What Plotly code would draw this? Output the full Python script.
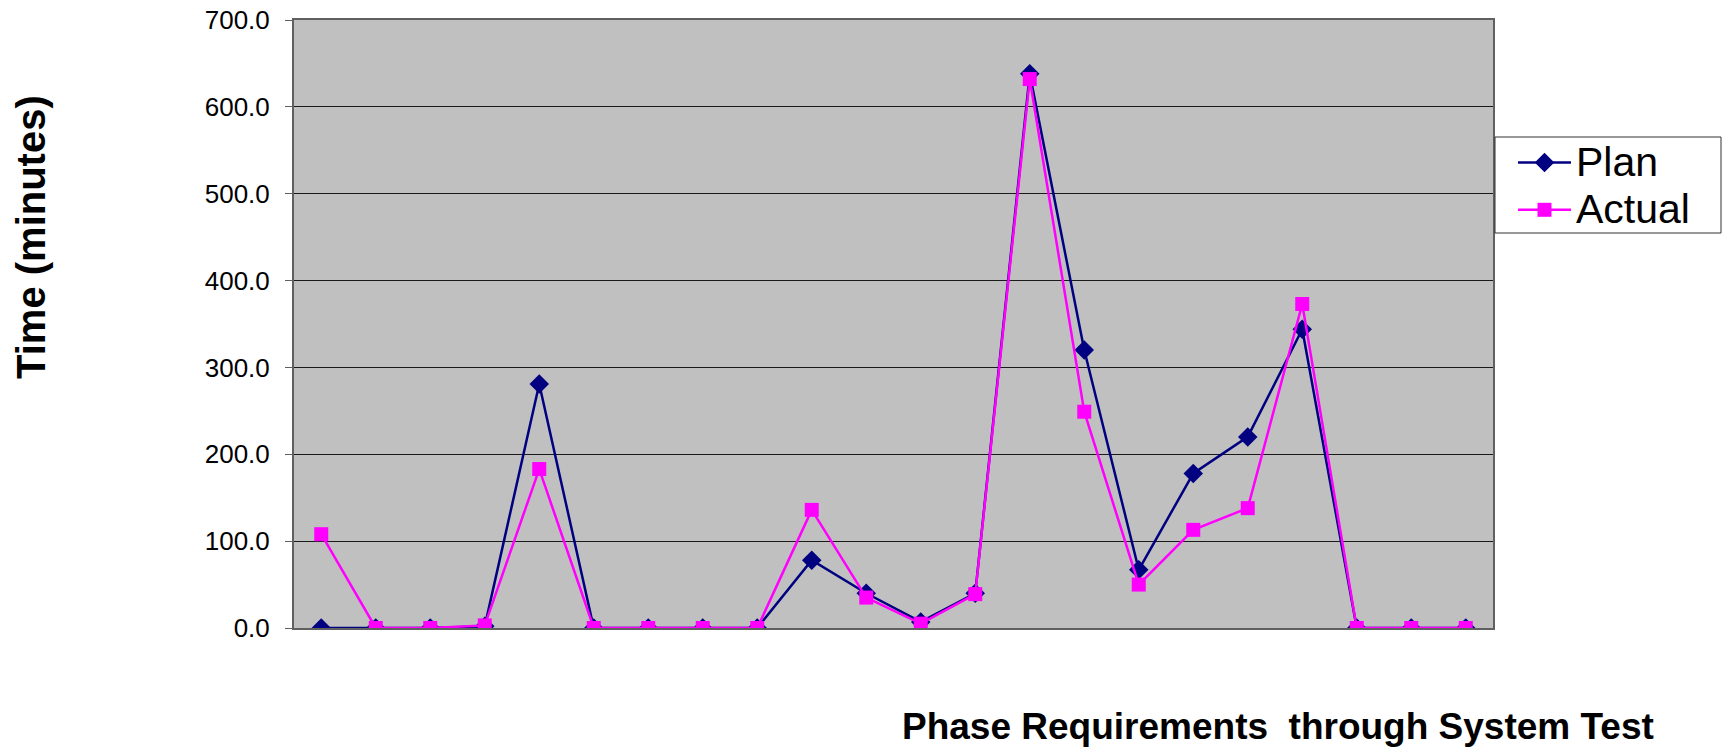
import plotly.graph_objects as go

categories = list(range(1, 23))
plan = [0, 0, 0, 2, 281, 0, 0, 0, 0, 78, 40, 7, 40, 638, 320, 67, 178, 220, 344, 0, 0, 0]
actual = [108, 0, 0, 3, 183, 0, 0, 0, 0, 136, 35, 5, 39, 632, 249, 50, 113, 138, 373, 0, 0, 0]
y_ticks = [0, 100, 200, 300, 400, 500, 600, 700]
series_names = ["Plan", "Actual"]

W, H = 1725, 753
L, R, T, B = 294, 1493, 20, 628
pw = R - L
ph = B - T


def px_x(v):
    return (v - L) / pw


def px_y(v):
    return (B - v) / ph


def leg_name(s):
    return '<span style="font-size:41px">' + s + '</span>'


fig = go.Figure()
fig.add_trace(go.Scatter(
    x=categories, y=plan, name=leg_name(series_names[0]), mode="lines+markers",
    line=dict(color="#000080", width=2.5),
    marker=dict(symbol="diamond", size=15, color="#000080"),
))
fig.add_trace(go.Scatter(
    x=categories, y=actual, name=leg_name(series_names[1]), mode="lines+markers",
    line=dict(color="#FF00FF", width=2.5),
    marker=dict(symbol="square", size=14, color="#FF00FF"),
))

fig.update_layout(
    width=W, height=H,
    margin=dict(l=L, r=W - R, t=T, b=H - B, pad=0, autoexpand=False),
    paper_bgcolor="white",
    plot_bgcolor="#C0C0C0",
    font=dict(family="Liberation Sans, Arial, sans-serif", color="black"),
    showlegend=True,
    legend=dict(
        x=px_x(1513), y=px_y(134), xanchor="left", yanchor="top",
        bgcolor="rgba(0,0,0,0)", borderwidth=0,
        font=dict(size=34, family="Liberation Sans, Arial, sans-serif"),
        tracegroupgap=0, itemwidth=53,
    ),
    shapes=[
        dict(type="rect", xref="paper", yref="paper",
             x0=px_x(1495), x1=px_x(1721), y0=px_y(233), y1=px_y(137),
             line=dict(color="#333333", width=1), fillcolor="white", layer="above"),
    ],
    xaxis=dict(
        range=[0.5, 22.5], showticklabels=False, ticks="",
        showgrid=False, zeroline=False, automargin=False,
        showline=True, linecolor="#606060", linewidth=2, mirror=True,
    ),
    yaxis=dict(
        range=[0, 700], tickvals=y_ticks, tickformat=".1f",
        ticks="outside", ticklen=7, tickcolor="#606060", tickwidth=1,
        tickfont=dict(size=26), ticklabeloverflow="allow", automargin=False,
        showgrid=True, gridcolor="#1a1a1a", gridwidth=1.3,
        zeroline=False,
        showline=True, linecolor="#606060", linewidth=2, mirror=True,
        ticklabelstandoff=10,
    ),
    annotations=[
        dict(text="<b>Time (minutes)</b>", textangle=-90,
             x=px_x(31), y=px_y(237), xref="paper", yref="paper",
             xanchor="center", yanchor="middle", showarrow=False,
             font=dict(size=40)),
        dict(text="<b>Phase Requirements  through System Test</b>",
             x=px_x(1278), y=px_y(726), xref="paper", yref="paper",
             xanchor="center", yanchor="middle", showarrow=False,
             font=dict(size=37)),
    ],
)

fig.write_html("out.html", config={"displayModeBar": False},
               post_script="document.body.style.margin='0';")
